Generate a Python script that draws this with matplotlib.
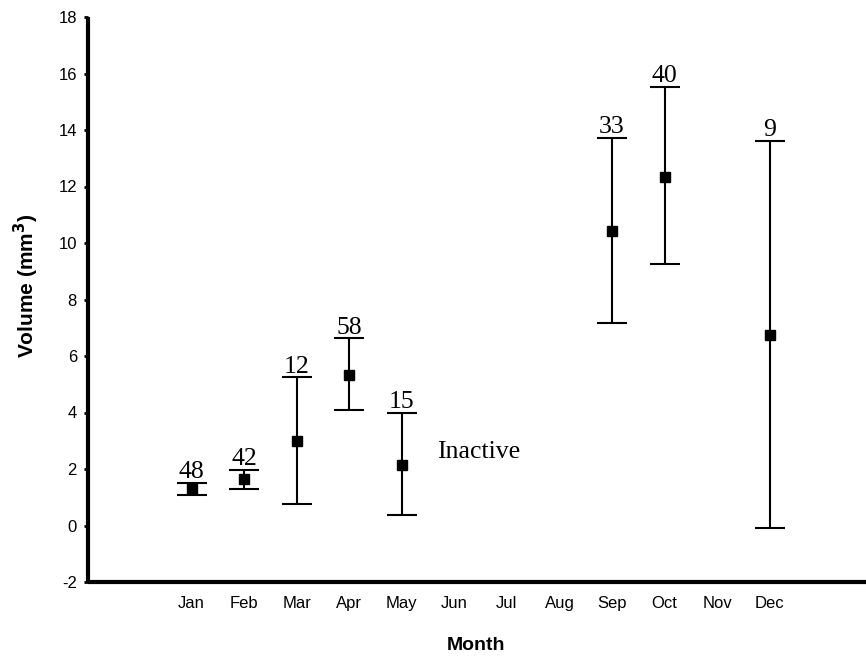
import matplotlib
matplotlib.use("Agg")
import matplotlib.pyplot as plt
import numpy as np

months = ["Jan", "Feb", "Mar", "Apr", "May", "Jun", "Jul", "Aug", "Sep", "Oct", "Nov", "Dec"]
obs_months = ["Jan", "Feb", "Mar", "Apr", "May", "Sep", "Oct", "Dec"]
means = [1.29, 1.65, 2.99, 5.32, 2.13, 10.44, 12.35, 6.75]
upper = [1.50, 1.98, 5.24, 6.62, 4.00, 13.71, 15.53, 13.60]
lower = [1.09, 1.30, 0.77, 4.09, 0.36, 7.18, 9.27, -0.09]
counts = ["48", "42", "12", "58", "15", "33", "40", "9"]
yticks = list(range(-2, 19, 2))

fig = plt.figure(figsize=(8.66, 6.56), dpi=100)
ax = fig.add_axes([88 / 866, 1 - 582 / 656, 1 - 88 / 866, (582 - 17) / 656])

xpos = [months.index(m) + 1 for m in obs_months]
means_a = np.array(means)
yerr = [means_a - np.array(lower), np.array(upper) - means_a]
ax.errorbar(xpos, means, yerr=yerr, fmt="s", color="black", ecolor="black",
            markersize=7, elinewidth=1.5, capsize=11, capthick=1.5)

for x, u, c in zip(xpos, upper, counts):
    ax.annotate(c, xy=(x, u), xytext=(0, 3.5), textcoords="offset points",
                ha="center", va="baseline", fontsize=18.5, family="Liberation Serif")

ax.text(5.67, 2.59, "Inactive", ha="left", va="center", fontsize=18.5,
        family="Liberation Serif")

ax.set_xlim(-0.97, 13.83)
ax.set_ylim(-2, 18)
ax.set_xticks(range(1, 13))
ax.set_xticklabels(months, fontsize=12, family="Liberation Sans")
ax.set_yticks(yticks)
ax.set_yticklabels([str(t) for t in yticks], fontsize=12, family="Liberation Sans")
ax.tick_params(axis="x", length=0, pad=10)
ax.tick_params(axis="y", length=3, width=2, pad=5, direction="out")

for s in ["top", "right"]:
    ax.spines[s].set_visible(False)
for s in ["left", "bottom"]:
    ax.spines[s].set_linewidth(3)
    ax.spines[s].set_capstyle("butt")

fig.text(26 / 866, 1 - 286 / 656, "Volume (mm$^\\mathbf{3}$)", rotation=90, ha="center", va="center",
         fontsize=15, fontweight="bold", family="Liberation Sans")
fig.text(476 / 866, 1 - 645 / 656, "Month", ha="center", va="center",
         fontsize=14, fontweight="bold", family="Liberation Sans")

fig.savefig("out.png", dpi=100)
